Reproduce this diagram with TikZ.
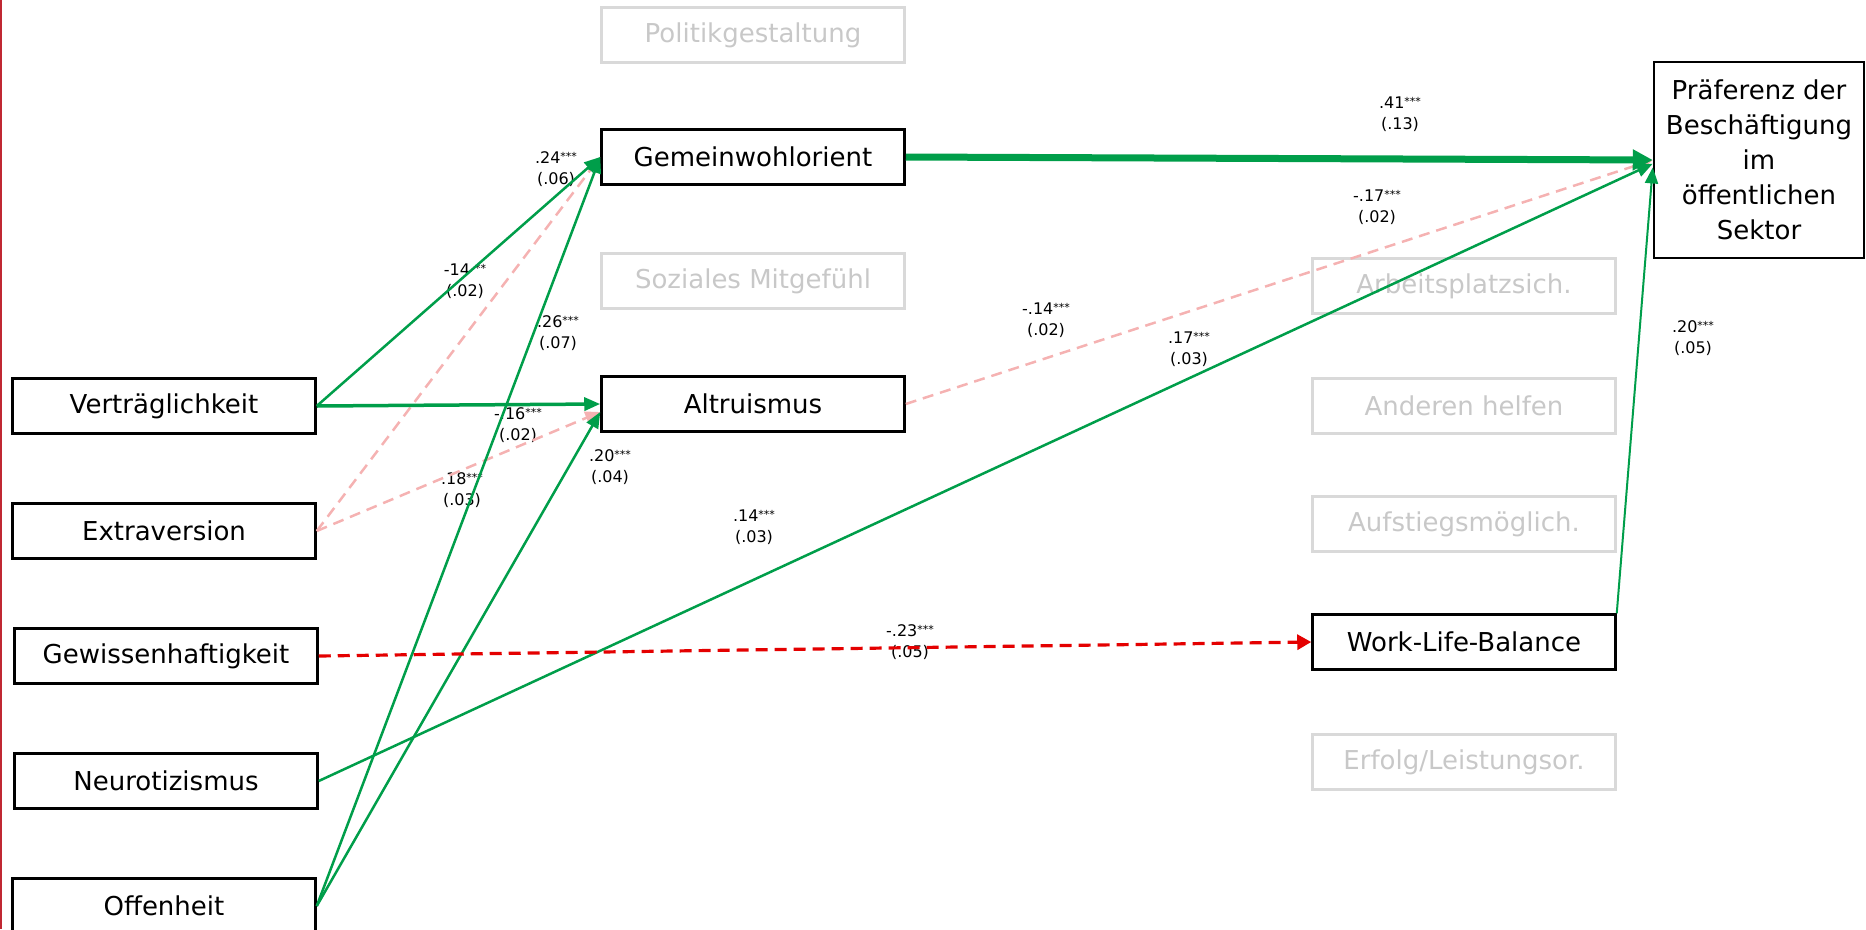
\documentclass[tikz,border=0pt]{standalone}
\usepackage{fontspec}
\setmainfont{DejaVu Sans}
\usepackage{tikz}
\usetikzlibrary{arrows.meta}

\definecolor{pathgreen}{RGB}{0,158,74}
\definecolor{negpink}{RGB}{245,178,178}
\definecolor{negred}{RGB}{228,0,0}
\definecolor{boxgray}{RGB}{217,217,217}
\definecolor{textgray}{RGB}{200,200,200}
\definecolor{framered}{RGB}{192,40,50}

\newcommand{\sigstars}[1]{\raisebox{2.5pt}{\fontsize{11}{11}\selectfont #1}}

\tikzset{
  var/.style={draw=black, line width=2.5pt, minimum width=303pt, minimum height=55pt,
    inner sep=0pt, font=\fontsize{26}{31}\selectfont},
  unused/.style={var, draw=boxgray, text=textgray},
  coef/.style={align=center, inner sep=0pt, font=\fontsize{16}{21}\selectfont},
  posedge/.style={draw=pathgreen, line width=2.5pt, -{Triangle[length=16pt,width=13pt]}},
  negedge/.style={draw=negpink, line width=2.5pt, dash pattern=on 11pt off 7pt,
    -{Triangle[length=15pt,width=13pt]}},
  negstrong/.style={draw=negred, line width=3.2pt, dash pattern=on 12pt off 7pt,
    -{Triangle[length=14pt,width=15pt]}}
}

\begin{document}
\begin{tikzpicture}[x=1pt,y=-1pt]
\useasboundingbox (0,0) rectangle (1866,929);
\clip (0,0) rectangle (1866,929);

\draw[framered, line width=1.5pt] (0.8,0) -- (0.8,929);

% big five
\node[var] (vert) at (164,406) {Verträglichkeit};
\node[var] (extra) at (164,531) {Extraversion};
\node[var] (gew) at (166,656) {Gewissenhaftigkeit};
\node[var] (neuro) at (166,781) {Neurotizismus};
\node[var] (offen) at (164,906) {Offenheit};

% motives
\node[unused] (polit) at (753,35) {Politikgestaltung};
\node[var] (gem) at (753,157) {Gemeinwohlorient};
\node[unused] (sozial) at (753,281) {Soziales Mitgefühl};
\node[var] (alt) at (753,404) {Altruismus};

\node[unused] (arbeit) at (1464,286) {Arbeitsplatzsich.};
\node[unused] (helfen) at (1464,406) {Anderen helfen};
\node[unused] (aufstieg) at (1464,524) {Aufstiegsmöglich.};
\node[var] (wlb) at (1464,642) {Work-Life-Balance};
\node[unused] (erfolg) at (1464,762) {Erfolg/Leistungsor.};

\node[var, minimum width=210pt, minimum height=196pt, align=center,
  font=\fontsize{26}{35}\selectfont] (pref) at (1759,160)
  {Präferenz der\\Beschäftigung\\im\\öffentlichen\\Sektor};

% coefficients
\foreach \nm/\x/\y/\b/\st/\se in {
  cVG/556/169/.24/***/.06, cVE/465/281/{-14\ }/**/.02,
  cOG/558/333/.26/***/.07, cEA/518/425/-.16/***/.02,
  cEG/462/490/.18/***/.03, cOA/610/467/.20/***/.04,
  cGP/1400/114/.41/***/.13, cAP/1377/207/-.17/***/.02,
  cEx/1046/320/-.14/***/.02, cNP/1189/349/.17/***/.03,
  cWP/1693/338/.20/***/.05, cNx/754/527/.14/***/.03,
  cGW/910/642/-.23/***/.05}
  \node[coef] (\nm) at (\x,\y) {\b\sigstars{\st}\\(\se)};

% negative paths
\draw[negedge] (extra.east) -- (gem.west);
\draw[negedge] (extra.east) -- (alt.183);
\draw[negedge] (alt.east) -- (pref.west);

% positive paths
\draw[posedge] (vert.east) -- (gem.west);
\draw[posedge, line width=3.5pt] (vert.east) -- (alt.west);
\draw[posedge] (offen.east) -- (gem.west);
\draw[posedge] (offen.east) -- (alt.183);
\draw[posedge] (neuro.east) -- (pref.182);
\draw[posedge, line width=7pt, -{Triangle[length=20pt,width=20pt]}] (gem.east) -- (pref.west);
\draw[posedge, line width=2pt] (wlb.north east) -- (pref.184);

\draw[negstrong] (gew.east) -- (wlb.west);
\end{tikzpicture}
\end{document}
